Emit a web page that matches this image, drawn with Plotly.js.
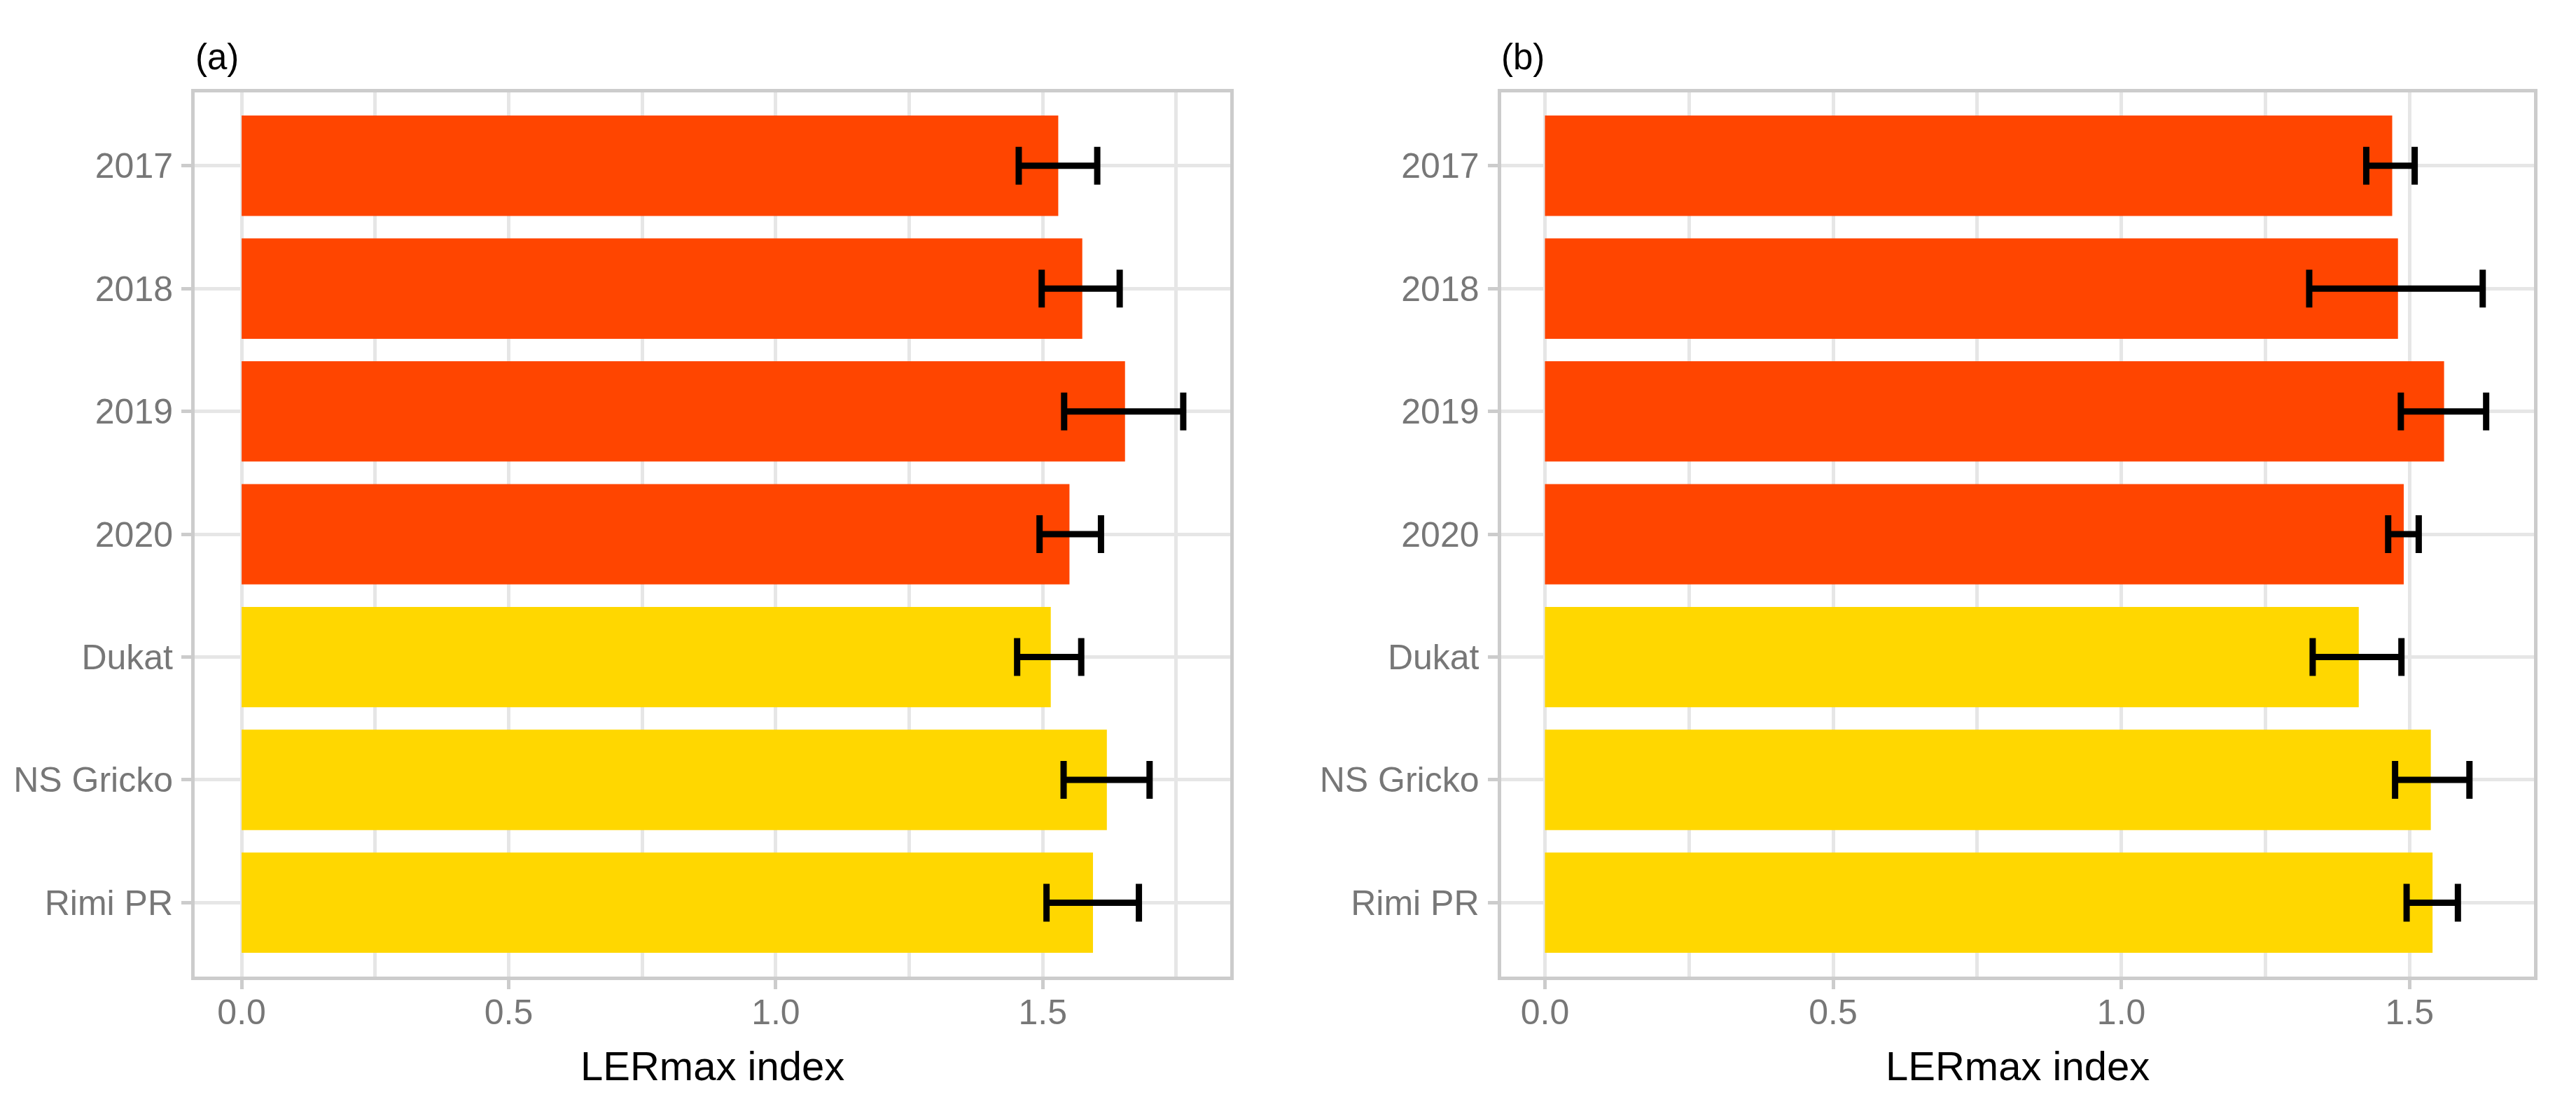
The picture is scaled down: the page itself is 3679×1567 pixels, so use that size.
<!DOCTYPE html>
<html>
<head>
<meta charset="utf-8">
<script src="https://cdn.plot.ly/plotly-3.0.1.min.js"></script>
<style>html,body{margin:0;padding:0;background:#fff;}#chart{width:3679px;height:1567px;}</style>
</head>
<body>
<div id="chart"></div>
<script>
// Categories (top to bottom)
const categories = ["2017", "2018", "2019", "2020", "Dukat", "NS Gricko", "Rimi PR"];
const groupOf = ["year", "year", "year", "year", "cultivar", "cultivar", "cultivar"];

// Panel (a) values
const meanA  = [1.529, 1.574, 1.654, 1.550, 1.515, 1.620, 1.594];
const lowerA = [1.455, 1.498, 1.540, 1.494, 1.452, 1.539, 1.507];
const upperA = [1.602, 1.644, 1.763, 1.609, 1.572, 1.700, 1.680];

// Panel (b) values
const meanB  = [1.470, 1.480, 1.560, 1.490, 1.412, 1.537, 1.540];
const lowerB = [1.425, 1.326, 1.485, 1.463, 1.332, 1.475, 1.495];
const upperB = [1.509, 1.627, 1.633, 1.516, 1.486, 1.604, 1.584];

const xTickVals = [0, 0.5, 1.0, 1.5];
const xTickText = ["0.0", "0.5", "1.0", "1.5"];
const panelTitles = ["(a)", "(b)"];
const axisTitle = "LERmax index";

const colorMap = {year: "#FF4500", cultivar: "#FFD700"};
const barColors = groupOf.map(g => colorMap[g]);

const FONT = "Liberation Sans, Arial, Helvetica, sans-serif";
const TICKGRAY = "#777777";
const BORDER = "#CCCCCC";
const GRID = "#E6E6E6";

function barTrace(means, lo, hi, xa, ya) {
  return {
    type: "bar",
    orientation: "h",
    x: means,
    y: categories,
    xaxis: xa,
    yaxis: ya,
    width: 0.817,
    marker: {color: barColors, line: {width: 0}},
    error_x: {
      type: "data",
      symmetric: false,
      array: hi.map((h, i) => h - means[i]),
      arrayminus: lo.map((l, i) => means[i] - l),
      color: "#000000",
      thickness: 9,
      width: 27
    },
    hoverinfo: "none",
    showlegend: false
  };
}

const W = 3679, H = 1567;
const px = v => v / W;
const py = v => (H - v) / H;

function xAxis(domain, range, anchor) {
  return {
    domain: domain,
    range: range,
    anchor: anchor,
    tickmode: "array",
    tickvals: xTickVals,
    ticktext: xTickText,
    ticks: "outside",
    ticklen: 13,
    tickwidth: 5,
    tickcolor: BORDER,
    ticklabelstandoff: -10,
    tickfont: {family: FONT, size: 50, color: TICKGRAY},
    showgrid: true,
    gridcolor: GRID,
    gridwidth: 5,
    minor: {dtick: 0.25, tick0: 0, showgrid: true, gridcolor: GRID, gridwidth: 5, ticks: ""},
    zeroline: false,
    showline: true,
    linecolor: BORDER,
    linewidth: 5,
    mirror: true,
    automargin: false,
    fixedrange: true
  };
}

function yAxis(domain, anchor) {
  return {
    domain: domain,
    anchor: anchor,
    type: "category",
    categoryorder: "array",
    categoryarray: categories,
    range: [6.6, -0.6],
    ticks: "outside",
    ticklen: 14,
    tickwidth: 5,
    tickcolor: BORDER,
    ticklabelstandoff: 2,
    tickfont: {family: FONT, size: 50, color: TICKGRAY},
    showgrid: true,
    gridcolor: GRID,
    gridwidth: 5,
    zeroline: false,
    showline: true,
    linecolor: BORDER,
    linewidth: 5,
    mirror: true,
    automargin: false,
    fixedrange: true
  };
}

const yDom = [py(1394.7), py(131.5)];
const domA = [px(278), px(1757)];
const domB = [px(2143.5), px(3619)];

const data = [
  barTrace(meanA, lowerA, upperA, "x", "y"),
  barTrace(meanB, lowerB, upperB, "x2", "y2")
];

const layout = {
  width: W,
  height: H,
  margin: {l: 0, r: 0, t: 0, b: 0},
  paper_bgcolor: "#ffffff",
  plot_bgcolor: "#ffffff",
  font: {family: FONT},
  barmode: "overlay",
  xaxis: xAxis(domA, [-0.088, 1.851], "y"),
  yaxis: yAxis(yDom, "x"),
  xaxis2: xAxis(domB, [-0.0765, 1.716], "y2"),
  yaxis2: yAxis(yDom, "x2"),
  annotations: [
    {text: panelTitles[0], xref: "paper", yref: "paper", x: px(277), y: py(81), xanchor: "left", yanchor: "middle", showarrow: false, font: {family: FONT, size: 51, color: "#000"}},
    {text: panelTitles[1], xref: "paper", yref: "paper", x: px(2142), y: py(81), xanchor: "left", yanchor: "middle", showarrow: false, font: {family: FONT, size: 51, color: "#000"}},
    {text: axisTitle, xref: "paper", yref: "paper", x: (domA[0] + domA[1]) / 2, y: py(1522), xanchor: "center", yanchor: "middle", showarrow: false, font: {family: FONT, size: 58, color: "#000"}},
    {text: axisTitle, xref: "paper", yref: "paper", x: (domB[0] + domB[1]) / 2, y: py(1522), xanchor: "center", yanchor: "middle", showarrow: false, font: {family: FONT, size: 58, color: "#000"}}
  ]
};

Plotly.newPlot("chart", data, layout, {staticPlot: true, displayModeBar: false});
</script>
</body>
</html>
